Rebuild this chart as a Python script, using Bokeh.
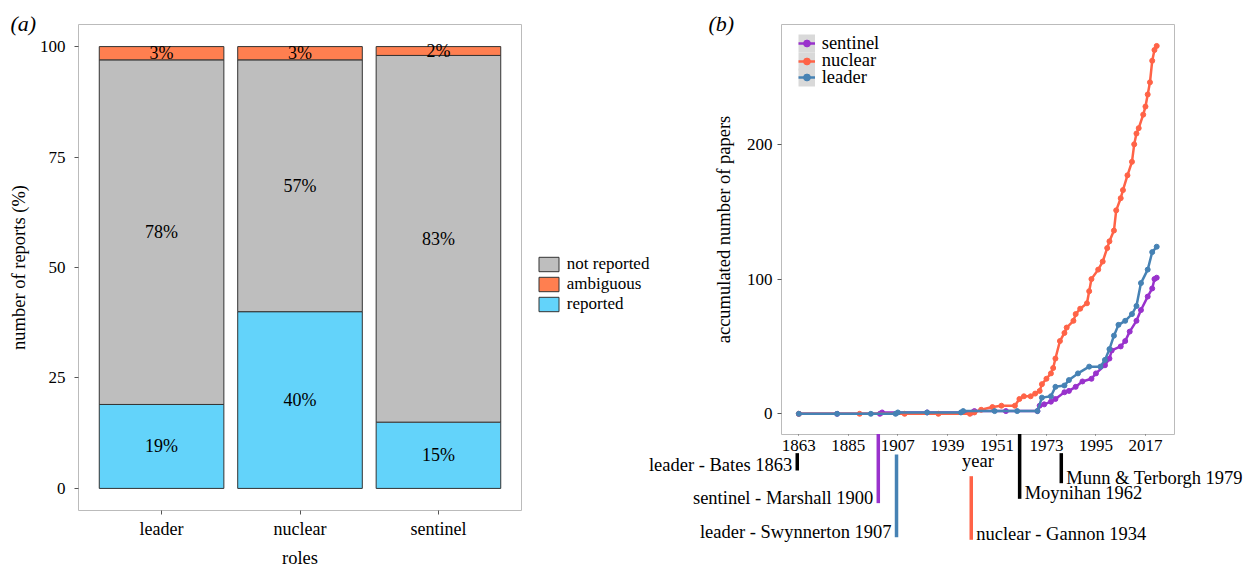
from bokeh.plotting import figure
from bokeh.models import Range1d, FixedTicker, Legend, LegendItem
from bokeh.layouts import row, column
from bokeh.embed import file_html
from bokeh.resources import INLINE
from bokeh.core.properties import value

NAN = float("nan")

# ---------------- data: panel (a) ----------------
roles = ["leader", "nuclear", "sentinel"]
reported = [19, 40, 15]
not_reported = [78, 57, 83]
ambiguous = [3, 3, 2]
y_ticks_a = [0, 25, 50, 75, 100]

# ---------------- data: panel (b) ----------------
sentinel_year = [1863, 1880, 1899, 1900, 1920, 1940, 1941, 1955, 1969, 1970, 1972, 1975, 1977,
                 1981, 1983, 1986, 1989, 1993, 1995, 1999, 2001, 2002, 2006, 2008, 2010, 2013,
                 2015, 2018, 2020, 2021, 2022]
sentinel_n = [0, 0, 0, 1, 1, 1, 2, 2, 2, 6, 7, 9, 11,
              16, 17, 20, 24, 26, 30, 36, 41, 47, 50, 54, 61, 69,
              77, 87, 93, 100, 101]

nuclear_year = [1863, 1890, 1910, 1925, 1939, 1941, 1944, 1949, 1953, 1959, 1961, 1963, 1966,
                1968, 1970, 1971, 1973, 1975, 1976, 1977, 1979, 1981, 1982, 1985, 1986, 1988,
                1991, 1992, 1993, 1996, 1998, 2000, 2001, 2003, 2004, 2006, 2007, 2009, 2011,
                2012, 2013, 2014, 2016, 2017, 2018, 2019, 2020, 2021, 2022]
nuclear_n = [0, 0, 0, 0, 0, 1, 3, 5, 6, 6, 11, 13, 13,
             15, 17, 22, 26, 30, 34, 41, 54, 60, 64, 69, 74, 78,
             82, 91, 100, 107, 113, 123, 128, 136, 151, 160, 166, 177, 187,
             200, 208, 212, 222, 228, 237, 246, 262, 270, 273]

leader_year = [1863, 1880, 1895, 1906, 1907, 1920, 1935, 1936, 1950, 1960, 1969, 1971, 1975,
               1977, 1981, 1983, 1987, 1992, 1997, 1999, 2001, 2003, 2005, 2008, 2011, 2013,
               2015, 2018, 2020, 2022]
leader_n = [0, 0, 0, 0, 1, 1, 1, 2, 2, 2, 2, 12, 13,
            20, 21, 25, 30, 35, 35, 40, 48, 58, 66, 69, 74, 80,
            97, 107, 120, 124]

x_tick_pos = [1863, 1885, 1907, 1929, 1951, 1973, 1995, 2017]
x_tick_labels = ["1863", "1885", "1907", "1939", "1951", "1973", "1995", "2017"]
y_ticks_b = [0, 100, 200]

event_labels = ["leader - Bates 1863", "sentinel - Marshall 1900", "leader - Swynnerton 1907",
                "nuclear - Gannon 1934", "Moynihan 1962", "Munn & Terborgh 1979"]
event_x = [1862.3, 1898.3, 1906.4, 1939.6, 1961.1, 1979.6]
event_top = [-29.2, -15.0, -30.2, -46.3, -15.0, -29.2]
event_bottom = [-42.1, -66.3, -91.6, -93.5, -63.1, -51.5]
event_side = ["right", "right", "right", "left", "left", "left"]

panel_tags = ["(a)", "(b)"]

# ---------------- styles ----------------
FONT = "Liberation Serif"
C_NR, C_AMB, C_REP = "#BEBEBE", "#FF7F50", "#63D3FA"
C_SEN, C_NUC, C_LEA = "#9932CC", "#FF6347", "#4682B4"
EVENT_COLORS = ["black", C_SEN, C_LEA, C_NUC, "black", "black"]
BORDER = "#BBBBBB"
TICK = "#555555"
BAR_LINE = "#333333"
W, H = 1252, 570


def style_axis(ax, label_size):
    ax.axis_line_color = None
    ax.major_tick_line_color = TICK
    ax.major_tick_in = 0
    ax.minor_tick_line_color = None
    ax.major_label_text_font = FONT
    ax.major_label_text_font_size = label_size
    ax.major_label_text_color = "black"
    ax.axis_label_text_font = FONT
    ax.axis_label_text_font_size = "18.5px"
    ax.axis_label_text_font_style = "normal"
    ax.axis_label_text_color = "black"


def no_align(p):
    if "frame_align" in p.properties():
        p.frame_align = False


# ================= panel (a) =================
F1_LEFT, F1_TOP, F1_W, F1_H = 78, 24, 443, 488
p1 = figure(width=690, height=H, output_backend="svg", toolbar_location=None,
            x_range=Range1d(0.4, 3.6), y_range=Range1d(-5, 105),
            min_border_left=F1_LEFT, min_border_right=690 - F1_LEFT - F1_W,
            min_border_top=F1_TOP, min_border_bottom=H - F1_TOP - F1_H)
no_align(p1)
p1.xgrid.visible = False
p1.ygrid.visible = False
p1.outline_line_color = BORDER
p1.outline_line_width = 1
p1.background_fill_color = "white"
p1.border_fill_color = "white"

xpos = [i + 1 for i in range(len(roles))]
nr_top = [r + n for r, n in zip(reported, not_reported)]
amb_top = [t + a for t, a in zip(nr_top, ambiguous)]
bar_kw = dict(width=0.9, line_color=BAR_LINE, line_width=1)
p1.vbar(x=xpos, bottom=0, top=reported, fill_color=C_REP, **bar_kw)
p1.vbar(x=xpos, bottom=reported, top=nr_top, fill_color=C_NR, **bar_kw)
p1.vbar(x=xpos, bottom=nr_top, top=amb_top, fill_color=C_AMB, **bar_kw)

lab_x, lab_y, lab_t = [], [], []
for i in range(len(roles)):
    for lo, hi, v in ((0, reported[i], reported[i]),
                      (reported[i], nr_top[i], not_reported[i]),
                      (nr_top[i], amb_top[i], ambiguous[i])):
        lab_x.append(xpos[i])
        lab_y.append((lo + hi) / 2)
        lab_t.append(f"{v}%")
p1.text(x=lab_x, y=lab_y, text=lab_t, text_font=value(FONT), text_font_size="18px",
        text_align="center", text_baseline="middle", text_color="black")

style_axis(p1.yaxis[0], "17px")
style_axis(p1.xaxis[0], "18px")
p1.yaxis.ticker = FixedTicker(ticks=y_ticks_a)
p1.yaxis.major_tick_out = 4
p1.yaxis.major_label_standoff = 9
p1.yaxis.axis_label = "number of reports (%)"
p1.yaxis.axis_label_standoff = 8
p1.xaxis.ticker = FixedTicker(ticks=xpos)
p1.xaxis.major_label_overrides = {x: r for x, r in zip(xpos, roles)}
p1.xaxis.major_tick_out = 4
p1.xaxis.major_label_standoff = 4
p1.xaxis.axis_label = "roles"
p1.xaxis.axis_label_standoff = 6

# ================= panel (b) =================
XS, XE = 1855.3, 2029.9
YS, YE = -15.36, 288.9
F2_LEFT, F2_TOP, F2_W, F2_H = 781, 24, 393, 410
p2 = figure(width=W - 690, height=H, output_backend="svg", toolbar_location=None,
            x_range=Range1d(XS, XE), y_range=Range1d(YS, YE),
            min_border_left=F2_LEFT - 690, min_border_right=W - F2_LEFT - F2_W,
            min_border_top=F2_TOP, min_border_bottom=H - F2_TOP - F2_H)
no_align(p2)
p2.xgrid.visible = False
p2.ygrid.visible = False
p2.outline_line_color = BORDER
p2.outline_line_width = 1
p2.background_fill_color = "white"
p2.border_fill_color = "white"

# legend-key background (no visible data)
gray_key = p2.line(x=[NAN, NAN], y=[NAN, NAN], line_width=18, line_color="#D9D9D9")
series = [("sentinel", sentinel_year, sentinel_n, C_SEN),
          ("nuclear", nuclear_year, nuclear_n, C_NUC),
          ("leader", leader_year, leader_n, C_LEA)]
rends = {}
for name, xs, ys, col in series:
    ln = p2.line(x=xs, y=ys, line_color=col, line_width=2.5)
    sc = p2.scatter(x=xs, y=ys, size=5, fill_color=col, line_color=col)
    rends[name] = (ln, sc)

row_centers = [43.3, 61.0, 77.3]
for (name, _, _, _), yc in zip(series, row_centers):
    ln, sc = rends[name]
    lg = Legend(items=[LegendItem(label=name, renderers=[gray_key, ln, sc])],
                location=(16.7, F2_TOP + F2_H - yc - 10.25), padding=0, spacing=0, margin=0,
                glyph_width=17, glyph_height=20, label_height=20, label_standoff=7,
                label_text_font=FONT, label_text_font_size="18.5px", label_text_color="black",
                border_line_color=None, background_fill_alpha=0)
    p2.add_layout(lg)

style_axis(p2.xaxis[0], "17px")
style_axis(p2.yaxis[0], "17px")
p2.xaxis.ticker = FixedTicker(ticks=x_tick_pos)
p2.xaxis.major_label_overrides = {x: t for x, t in zip(x_tick_pos, x_tick_labels)}
p2.xaxis.major_tick_out = 1
p2.xaxis.major_label_standoff = 4
p2.xaxis.axis_label = "year"
p2.xaxis.axis_label_standoff = -3
p2.yaxis.ticker = FixedTicker(ticks=y_ticks_b)
p2.yaxis.major_tick_out = 4
p2.yaxis.major_label_standoff = 5
p2.yaxis.axis_label = "accumulated number of papers"
p2.yaxis.axis_label_standoff = 10

# ============ transparent overlay: things drawn outside the two panels ============
px_per_year = F2_W / (XE - XS)
px_per_unit = F2_H / (YE - YS)
ox0 = XS - F2_LEFT / px_per_year
oy1 = YE + F2_TOP / px_per_unit
p3 = figure(width=W, height=H, output_backend="svg", toolbar_location=None,
            x_range=Range1d(ox0, ox0 + W / px_per_year),
            y_range=Range1d(oy1 - H / px_per_unit, oy1),
            x_axis_location=None, y_axis_location=None, min_border=0)
no_align(p3)
p3.grid.visible = False
p3.outline_line_color = None
p3.background_fill_alpha = 0
p3.border_fill_alpha = 0
p3.margin = (-H, 0, 0, 0)

p3.segment(x0=event_x, y0=event_top, x1=event_x, y1=event_bottom,
           line_color=EVENT_COLORS, line_width=3.5)
for side, off in (("right", -5), ("left", 5)):
    idx = [i for i, s in enumerate(event_side) if s == side]
    p3.text(x=[event_x[i] for i in idx], y=[event_bottom[i] for i in idx],
            text=[event_labels[i] for i in idx], text_font=value(FONT),
            text_font_size="18.5px", text_align=side, text_baseline="middle",
            x_offset=off, y_offset=-5.5, text_color="black")

tag_px = [10, 708]
p3.text(x=[ox0 + t / px_per_year for t in tag_px], y=[oy1 - 22.5 / px_per_unit] * 2,
        text=panel_tags, text_font=value(FONT), text_font_size="22px",
        text_font_style="italic", text_align="left", text_baseline="middle",
        text_color="black")

# legend of panel (a), placed to the right of that panel
key_kw = dict(x=[NAN], top=[NAN], width=1, line_color=BAR_LINE, line_width=1)
k_nr = p3.vbar(fill_color=C_NR, **key_kw)
k_amb = p3.vbar(fill_color=C_AMB, **key_kw)
k_rep = p3.vbar(fill_color=C_REP, **key_kw)
leg1 = Legend(items=[LegendItem(label="not reported", renderers=[k_nr]),
                     LegendItem(label="ambiguous", renderers=[k_amb]),
                     LegendItem(label="reported", renderers=[k_rep])],
              location=(535.8, H - 313.5), orientation="vertical", padding=0, spacing=0,
              margin=0, glyph_width=25, glyph_height=18, label_height=18, label_standoff=6,
              label_text_font=FONT, label_text_font_size="17px", label_text_color="black",
              border_line_color=None, background_fill_alpha=0)
p3.add_layout(leg1)

layout = column(row(p1, column(p2)), p3)
open("out.html", "w").write(file_html(layout, INLINE))
